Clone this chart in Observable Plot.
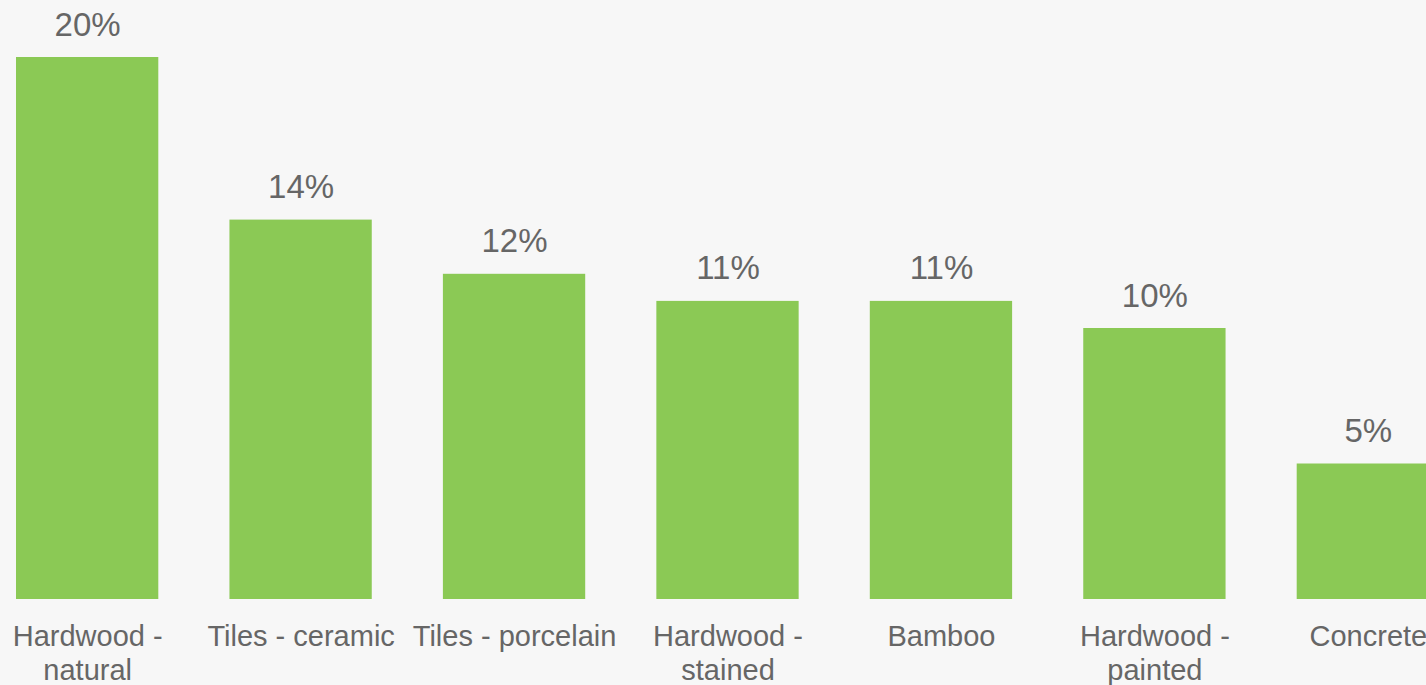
<!DOCTYPE html>
<html>
<head>
<meta charset="utf-8">
<script src="https://cdn.jsdelivr.net/npm/d3@7"></script>
<script src="https://cdn.jsdelivr.net/npm/@observablehq/plot@0.6"></script>
<style>
  html, body { margin: 0; padding: 0; background: #f7f7f7; overflow: hidden; }
  #chart svg { display: block; }
</style>
</head>
<body>
<div id="chart"></div>
<script>
const categories = ["Hardwood - natural", "Tiles - ceramic", "Tiles - porcelain", "Hardwood - stained", "Bamboo", "Hardwood - painted", "Concrete"];
const tickLabels = ["Hardwood -\nnatural", "Tiles - ceramic", "Tiles - porcelain", "Hardwood -\nstained", "Bamboo", "Hardwood -\npainted", "Concrete"];
const values = [20, 14, 12, 11, 11, 10, 5];

const data = categories.map((c, i) => ({category: c, value: values[i], label: tickLabels[i]}));

const chart = Plot.plot({
  width: 1426,
  height: 685,
  margin: 0,
  style: {background: "#f7f7f7", fontFamily: "'Liberation Sans', Arial, sans-serif", overflow: "hidden"},
  x: {domain: categories, range: [16, 1439], paddingInner: 1/3, paddingOuter: 0, align: 0, round: false, axis: null},
  y: {domain: [0, 20], range: [599, 57], axis: null},
  marks: [
    Plot.barY(data, {x: "category", y: "value", fill: "#8bc955"}),
    Plot.text(data, {x: "category", y: "value", text: d => d.value + "%", dy: -22, lineAnchor: "bottom", fontSize: 33, fill: "#666666"}),
    Plot.text(data, {x: "category", y: () => 0, text: "label", dy: 22, lineAnchor: "top", fontSize: 29, lineHeight: 1.17, fill: "#666666"})
  ]
});
document.getElementById("chart").appendChild(chart);
</script>
</body>
</html>
